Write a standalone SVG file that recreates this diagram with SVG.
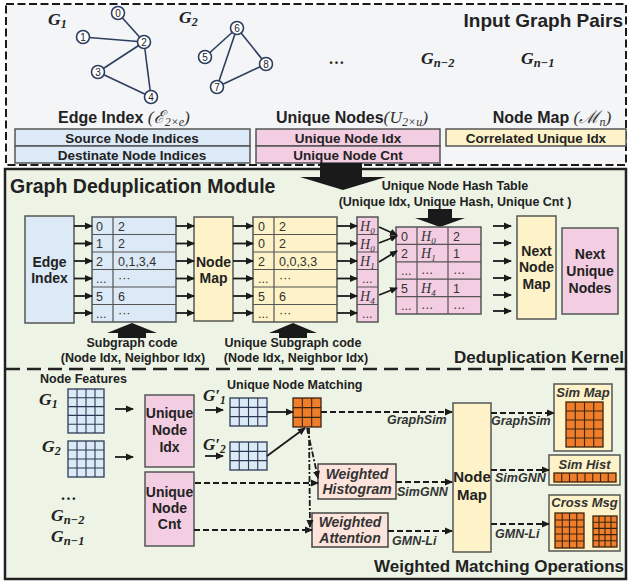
<svg xmlns="http://www.w3.org/2000/svg" width="628" height="584" viewBox="0 0 628 584">
  <style>
    .sans { font-family: "Liberation Sans", Arial, sans-serif; font-weight: bold; fill: #222; }
    .val { font-family: "Liberation Sans", Arial, sans-serif; font-size: 12.5px; fill: #333; }
    .mth { font-family: "Liberation Serif", "DejaVu Serif", serif; font-style: italic; font-weight: bold; fill: #222; }
    .mi { font-family: "Liberation Serif", "DejaVu Serif", serif; font-style: italic; font-weight: normal; fill: #333; }
    .ital { font-family: "Liberation Sans", Arial, sans-serif; font-weight: bold; font-style: italic; fill: #333; }
    .blue { fill: #dce9f6; stroke: #555; stroke-width: 1.5; }
    .pink { fill: #f3cde1; stroke: #555; stroke-width: 1.5; }
    .yel { fill: #fdf2c8; stroke: #555; stroke-width: 1.5; }
    .salm { fill: #fce4dc; stroke: #444; stroke-width: 1.5; }
    .gl { fill: none; stroke: #555; stroke-width: 1.2; }
    .bgrid { fill: #dce9f6; stroke: #2b3a55; stroke-width: 1.3; }
    .bgl { fill: none; stroke: #2b3a55; stroke-width: 1.1; }
    .ogrid { fill: #f07d2a; stroke: #3a2410; stroke-width: 1.3; }
    .ogl { fill: none; stroke: #3a2410; stroke-width: 1.1; }
    .edge { stroke: #2d3e5e; stroke-width: 1.6; }
    .vtx { fill: #fff; stroke: #2d3e5e; stroke-width: 1.6; }
    .vnum { font-family: "Liberation Sans", Arial, sans-serif; font-size: 10px; fill: #222; text-anchor: middle; }
    .arr { stroke: #1a1a1a; stroke-width: 1.8; fill: none; marker-end: url(#ah); }
    .dash { stroke: #1a1a1a; stroke-width: 2; fill: none; stroke-dasharray: 6 3; marker-end: url(#ah); }
    .dd { stroke: #1a1a1a; stroke-width: 1.8; fill: none; stroke-dasharray: 6 2 2 2; marker-end: url(#ah); }
    .big { fill: #1a1a1a; }
  </style>
  <defs>
    <marker id="ah" markerUnits="userSpaceOnUse" markerWidth="8" markerHeight="8" refX="7" refY="4" orient="auto">
      <path d="M0,0.5 L8,4 L0,7.5 z" fill="#1a1a1a"/>
    </marker>
  </defs>

  <!-- Input graph pairs panel -->
  <g id="input-panel">
    <rect x="6" y="4" width="620" height="161" fill="#f4f5f7" stroke="#1a1a1a" stroke-width="2" stroke-dasharray="8 3.5"/>
    <text class="sans" x="623" y="27" font-size="19" text-anchor="end">Input Graph Pairs</text>
  </g>

  <g id="graph-g1">
    <text class="mth" x="48" y="25" font-size="17.5">G<tspan font-size="12" dy="3">1</tspan></text>
    <line class="edge" x1="118" y1="13" x2="144" y2="42"/>
    <line class="edge" x1="83" y1="37" x2="144" y2="42"/>
    <line class="edge" x1="144" y1="42" x2="98" y2="72"/>
    <line class="edge" x1="144" y1="42" x2="151" y2="97"/>
    <line class="edge" x1="98" y1="72" x2="151" y2="97"/>
    <circle class="vtx" cx="118" cy="13" r="6.5"/><text class="vnum" x="118" y="16.6">0</text>
    <circle class="vtx" cx="83" cy="37" r="6.5"/><text class="vnum" x="83" y="40.6">1</text>
    <circle class="vtx" cx="144" cy="42" r="6.5"/><text class="vnum" x="144" y="45.6">2</text>
    <circle class="vtx" cx="98" cy="72" r="6.5"/><text class="vnum" x="98" y="75.6">3</text>
    <circle class="vtx" cx="151" cy="97" r="6.5"/><text class="vnum" x="151" y="100.6">4</text>
  </g>

  <g id="graph-g2">
    <text class="mth" x="179" y="23" font-size="17.5">G<tspan font-size="12" dy="3">2</tspan></text>
    <line class="edge" x1="237" y1="28" x2="205" y2="57"/>
    <line class="edge" x1="237" y1="28" x2="217" y2="87"/>
    <line class="edge" x1="237" y1="28" x2="266" y2="64"/>
    <line class="edge" x1="266" y1="64" x2="217" y2="87"/>
    <circle class="vtx" cx="237" cy="28" r="6.5"/><text class="vnum" x="237" y="31.6">6</text>
    <circle class="vtx" cx="205" cy="57" r="6.5"/><text class="vnum" x="205" y="60.6">5</text>
    <circle class="vtx" cx="266" cy="64" r="6.5"/><text class="vnum" x="266" y="67.6">8</text>
    <circle class="vtx" cx="217" cy="87" r="6.5"/><text class="vnum" x="217" y="90.6">7</text>
  </g>

  <g id="graph-rest">
    <text class="mth" x="337" y="64" font-size="16" text-anchor="middle">…</text>
    <text class="mth" x="421" y="64" font-size="17.5">G<tspan font-size="12.5" dy="3">n−2</tspan></text>
    <text class="mth" x="521" y="64" font-size="17.5">G<tspan font-size="12.5" dy="3">n−1</tspan></text>
  </g>

  <g id="edge-index-format">
    <text class="sans" x="124" y="123" font-size="16" text-anchor="middle">Edge Index <tspan class="mi" font-size="17.5">(ℰ<tspan font-size="12" dy="3">2×e</tspan><tspan dy="-3">)</tspan></tspan></text>
    <rect class="blue" x="15" y="129" width="235" height="17"/>
    <rect class="blue" x="15" y="146" width="235" height="17"/>
    <text class="sans" x="132" y="142.5" font-size="13.5" text-anchor="middle">Source Node Indices</text>
    <text class="sans" x="132" y="159.5" font-size="13.5" text-anchor="middle">Destinate Node Indices</text>
  </g>

  <g id="unique-nodes-format">
    <text class="sans" x="352" y="123" font-size="16" text-anchor="middle">Unique Nodes<tspan class="mi" font-size="17.5">(U<tspan font-size="12" dy="3">2×u</tspan><tspan dy="-3">)</tspan></tspan></text>
    <rect class="pink" x="256" y="129" width="184" height="17"/>
    <rect class="pink" x="256" y="146" width="184" height="17"/>
    <text class="sans" x="348" y="142.5" font-size="13.5" text-anchor="middle">Unique Node Idx</text>
    <text class="sans" x="348" y="159.5" font-size="13.5" text-anchor="middle">Unique Node Cnt</text>
  </g>

  <g id="node-map-format">
    <text class="sans" x="552" y="123" font-size="16" text-anchor="middle">Node Map <tspan class="mi" font-size="17.5">(ℳ<tspan font-size="12" dy="3">n</tspan><tspan dy="-3">)</tspan></tspan></text>
    <rect class="yel" x="446" y="129" width="180" height="17"/>
    <text class="sans" x="536" y="142.5" font-size="13.5" text-anchor="middle">Correlated Unique Idx</text>
  </g>

  <!-- Graph deduplication module frame -->
  <g id="module-frame">
    <rect x="5" y="169" width="621" height="410" fill="#edf4e5" stroke="#222" stroke-width="2.5"/>
    <line x1="6" y1="369" x2="626" y2="369" stroke="#222" stroke-width="2.5" stroke-dasharray="14 7"/>
    <text class="sans" x="10" y="193" font-size="19.5">Graph Deduplication Module</text>
    <text class="sans" x="624" y="363" font-size="17" text-anchor="end">Deduplication Kernel</text>
    <text class="sans" x="624" y="572" font-size="17" text-anchor="end">Weighted Matching Operations</text>
  </g>

  <!-- Block arrow from the input panel into the module -->
  <g id="input-arrow">
    <polygon class="big" points="320,163 362,163 362,177 386,177 343,190 300,177 320,177"/>
  </g>

  <g id="edge-index">
    <rect class="blue" x="25" y="216" width="49" height="107"/>
    <text class="sans" x="49.5" y="267" font-size="14" text-anchor="middle">Edge</text>
    <text class="sans" x="49.5" y="283" font-size="14" text-anchor="middle">Index</text>
  </g>

  <g id="subgraph-code">
    <rect class="blue" x="92" y="217" width="84" height="105"/>
    <path class="gl" d="M113,217 V322 M92,234.5 H176 M92,252 H176 M92,269.5 H176 M92,287 H176 M92,304.5 H176"/>
    <text class="val" x="96" y="230.5">0</text><text class="val" x="118" y="230.5">2</text>
    <text class="val" x="96" y="248">1</text><text class="val" x="118" y="248">2</text>
    <text class="val" x="96" y="265.5">2</text><text class="val" x="118" y="265.5">0,1,3,4</text>
    <text class="val" x="96" y="283" font-size="9">...</text><text class="val" x="118" y="282" font-size="10">···</text>
    <text class="val" x="96" y="300.5">5</text><text class="val" x="118" y="300.5">6</text>
    <text class="val" x="96" y="318" font-size="9">...</text><text class="val" x="118" y="317" font-size="10">···</text>
    <polygon class="big" points="132,323 157,333 146,333 146,338 118,338 118,333 107,333"/>
    <text class="sans" x="132" y="347" font-size="12.5" text-anchor="middle">Subgraph code</text>
    <text class="sans" x="133" y="362" font-size="12.5" text-anchor="middle">(Node Idx, Neighbor Idx)</text>
  </g>

  <g id="node-map">
    <rect class="yel" x="194" y="217" width="39" height="104"/>
    <text class="sans" x="213.5" y="267" font-size="14" text-anchor="middle">Node</text>
    <text class="sans" x="213.5" y="283" font-size="14" text-anchor="middle">Map</text>
  </g>

  <g id="unique-subgraph-code">
    <rect class="yel" x="253" y="217" width="84" height="105"/>
    <path class="gl" d="M274,217 V322 M253,234.5 H337 M253,252 H337 M253,269.5 H337 M253,287 H337 M253,304.5 H337"/>
    <text class="val" x="258" y="230.5">0</text><text class="val" x="279" y="230.5">2</text>
    <text class="val" x="258" y="248">0</text><text class="val" x="279" y="248">2</text>
    <text class="val" x="258" y="265.5">2</text><text class="val" x="279" y="265.5">0,0,3,3</text>
    <text class="val" x="258" y="283" font-size="9">...</text><text class="val" x="279" y="282" font-size="10">···</text>
    <text class="val" x="258" y="300.5">5</text><text class="val" x="279" y="300.5">6</text>
    <text class="val" x="258" y="318" font-size="9">...</text><text class="val" x="279" y="317" font-size="10">···</text>
    <polygon class="big" points="293,323 317,333 307,333 307,338 279,338 279,333 269,333"/>
    <text class="sans" x="293" y="347" font-size="12.5" text-anchor="middle">Unique Subgraph code</text>
    <text class="sans" x="296" y="362" font-size="12.5" text-anchor="middle">(Node Idx, Neighbor Idx)</text>
  </g>

  <g id="hash-column">
    <rect class="pink" x="357" y="217" width="21" height="105"/>
    <path class="gl" d="M357,234.5 H378 M357,252 H378 M357,269.5 H378 M357,287 H378 M357,304.5 H378"/>
    <text class="mi" x="360" y="231" font-size="14">H<tspan font-size="9" dy="3">0</tspan></text>
    <text class="mi" x="360" y="248.5" font-size="14">H<tspan font-size="9" dy="3">0</tspan></text>
    <text class="mi" x="360" y="266" font-size="14">H<tspan font-size="9" dy="3">1</tspan></text>
    <text class="val" x="362" y="283" font-size="9">...</text>
    <text class="mi" x="360" y="301" font-size="14">H<tspan font-size="9" dy="3">4</tspan></text>
    <text class="val" x="362" y="318" font-size="9">...</text>
  </g>

  <g id="hash-table">
    <text class="sans" x="455" y="190" font-size="12.5" text-anchor="middle">Unique Node Hash Table</text>
    <text class="sans" x="455" y="206" font-size="12.5" text-anchor="middle">(Unique Idx, Unique Hash, Unique Cnt )</text>
    <polygon class="big" points="428,209 452,209 452,218 465,218 440,227 415,218 428,218"/>
    <rect class="pink" x="396" y="227" width="85" height="87"/>
    <path class="gl" d="M417,227 V314 M448,227 V314 M396,244.4 H481 M396,261.8 H481 M396,279.2 H481 M396,296.6 H481"/>
    <text class="val" x="401" y="240.5">0</text><text class="mi" x="421" y="240.5" font-size="14">H<tspan font-size="9" dy="3">0</tspan></text><text class="val" x="453" y="240.5">2</text>
    <text class="val" x="401" y="258">2</text><text class="mi" x="421" y="258" font-size="14">H<tspan font-size="9" dy="3">1</tspan></text><text class="val" x="453" y="258">1</text>
    <text class="val" x="401" y="275" font-size="9">...</text><text class="val" x="421" y="274" font-size="11">…</text><text class="val" x="453" y="274" font-size="11">…</text>
    <text class="val" x="401" y="292.5">5</text><text class="mi" x="421" y="292.5" font-size="14">H<tspan font-size="9" dy="3">4</tspan></text><text class="val" x="453" y="292.5">1</text>
    <text class="val" x="401" y="310" font-size="9">...</text><text class="val" x="421" y="309" font-size="11">…</text><text class="val" x="453" y="309" font-size="11">…</text>
  </g>

  <g id="next-node-map">
    <rect class="yel" x="517" y="216" width="39" height="103"/>
    <text class="sans" x="536.5" y="256" font-size="14" text-anchor="middle">Next</text>
    <text class="sans" x="536.5" y="272" font-size="14" text-anchor="middle">Node</text>
    <text class="sans" x="536.5" y="289" font-size="14" text-anchor="middle">Map</text>
  </g>

  <g id="next-unique-nodes">
    <rect class="pink" x="562" y="228" width="56" height="86"/>
    <text class="sans" x="590" y="259" font-size="14" text-anchor="middle">Next</text>
    <text class="sans" x="590" y="276" font-size="14" text-anchor="middle">Unique</text>
    <text class="sans" x="590" y="293" font-size="14" text-anchor="middle">Nodes</text>
  </g>

  <!-- Weighted matching operations -->
  <g id="node-features">
    <text class="sans" x="40" y="383" font-size="12.5">Node Features</text>
    <text class="mth" x="39" y="405" font-size="17.5">G<tspan font-size="12" dy="3">1</tspan></text>
    <rect class="bgrid" x="68" y="389" width="36" height="44"/>
    <path class="bgl" d="M77,389 V433 M86,389 V433 M95,389 V433 M68,397.8 H104 M68,406.6 H104 M68,415.4 H104 M68,424.2 H104"/>
    <text class="mth" x="42" y="452" font-size="17.5">G<tspan font-size="12" dy="3">2</tspan></text>
    <rect class="bgrid" x="68" y="441" width="36" height="36"/>
    <path class="bgl" d="M77,441 V477 M86,441 V477 M95,441 V477 M68,450 H104 M68,459 H104 M68,468 H104"/>
    <text class="mth" x="69" y="500" font-size="16" text-anchor="middle">…</text>
    <text class="mth" x="51" y="521" font-size="17.5">G<tspan font-size="12.5" dy="3">n−2</tspan></text>
    <text class="mth" x="51" y="542" font-size="17.5">G<tspan font-size="12.5" dy="3">n−1</tspan></text>
  </g>

  <g id="unique-node-idx">
    <rect class="pink" x="145" y="395" width="49" height="72"/>
    <text class="sans" x="169.5" y="418" font-size="14" text-anchor="middle">Unique</text>
    <text class="sans" x="169.5" y="435" font-size="14" text-anchor="middle">Node</text>
    <text class="sans" x="169.5" y="452" font-size="14" text-anchor="middle">Idx</text>
  </g>

  <g id="unique-node-cnt">
    <rect class="pink" x="145" y="472" width="49" height="74"/>
    <text class="sans" x="169.5" y="497" font-size="14" text-anchor="middle">Unique</text>
    <text class="sans" x="169.5" y="513" font-size="14" text-anchor="middle">Node</text>
    <text class="sans" x="169.5" y="529" font-size="14" text-anchor="middle">Cnt</text>
  </g>

  <g id="unique-features">
    <text class="mth" x="203" y="401" font-size="17">G′<tspan font-size="11.5" dy="3">1</tspan></text>
    <rect class="bgrid" x="230" y="398" width="37" height="28"/>
    <path class="bgl" d="M239.25,398 V426 M248.5,398 V426 M257.75,398 V426 M230,407.33 H267 M230,416.67 H267"/>
    <text class="mth" x="203" y="450" font-size="17">G′<tspan font-size="11.5" dy="3">2</tspan></text>
    <rect class="bgrid" x="230" y="442" width="37" height="28"/>
    <path class="bgl" d="M239.25,442 V470 M248.5,442 V470 M257.75,442 V470 M230,451.33 H267 M230,460.67 H267"/>
  </g>

  <g id="node-matching">
    <text class="sans" x="227" y="389" font-size="12.5">Unique Node Matching</text>
    <rect class="ogrid" x="293" y="398" width="28" height="29"/>
    <path class="ogl" d="M302.33,398 V427 M311.67,398 V427 M293,407.67 H321 M293,417.33 H321"/>
  </g>

  <g id="weighted-histogram">
    <rect class="salm" x="318" y="464" width="78" height="35"/>
    <text class="ital" x="357" y="478.5" font-size="14" text-anchor="middle">Weighted</text>
    <text class="ital" x="357" y="494" font-size="14" text-anchor="middle">Histogram</text>
  </g>

  <g id="weighted-attention">
    <rect class="salm" x="312" y="513" width="76" height="34"/>
    <text class="ital" x="350" y="527" font-size="14" text-anchor="middle">Weighted</text>
    <text class="ital" x="350" y="543" font-size="14" text-anchor="middle">Attention</text>
  </g>

  <g id="match-node-map">
    <rect class="yel" x="453" y="403" width="38" height="149"/>
    <text class="sans" x="472" y="482" font-size="15" text-anchor="middle">Node</text>
    <text class="sans" x="472" y="500" font-size="15" text-anchor="middle">Map</text>
  </g>

  <g id="sim-map">
    <rect class="yel" x="554" y="384" width="58" height="67"/>
    <text class="ital" x="583" y="397" font-size="13" text-anchor="middle">Sim Map</text>
    <rect class="ogrid" x="566" y="402" width="37" height="45"/>
    <path class="ogl" d="M575.25,402 V447 M584.5,402 V447 M593.75,402 V447 M566,411 H603 M566,420 H603 M566,429 H603 M566,438 H603"/>
  </g>

  <g id="sim-hist">
    <rect class="yel" x="549" y="455" width="71" height="30"/>
    <text class="ital" x="584.5" y="469" font-size="13" text-anchor="middle">Sim Hist</text>
    <rect class="ogrid" x="554" y="473" width="62" height="9"/>
    <path class="ogl" d="M561.75,473 V482 M569.5,473 V482 M577.25,473 V482 M585,473 V482 M592.75,473 V482 M600.5,473 V482 M608.25,473 V482"/>
  </g>

  <g id="cross-msg">
    <rect class="yel" x="549" y="495" width="71" height="56"/>
    <text class="ital" x="584.5" y="507" font-size="13" text-anchor="middle">Cross Msg</text>
    <rect class="ogrid" x="555" y="513" width="29" height="35"/>
    <path class="ogl" d="M562.25,513 V548 M569.5,513 V548 M576.75,513 V548 M555,520 H584 M555,527 H584 M555,534 H584 M555,541 H584"/>
    <rect class="ogrid" x="593" y="516" width="24" height="31"/>
    <path class="ogl" d="M599,516 V547 M605,516 V547 M611,516 V547 M593,522.2 H617 M593,528.4 H617 M593,534.6 H617 M593,540.8 H617"/>
  </g>

  <!-- Connectors -->
  <g id="connectors">
    <!-- edge index to subgraph code -->
    <line class="arr" x1="74" y1="226" x2="92" y2="226"/>
    <line class="arr" x1="74" y1="243.5" x2="92" y2="243.5"/>
    <line class="arr" x1="74" y1="261" x2="92" y2="261"/>
    <line class="arr" x1="74" y1="278.5" x2="92" y2="278.5"/>
    <line class="arr" x1="74" y1="296" x2="92" y2="296"/>
    <line class="arr" x1="74" y1="313" x2="92" y2="313"/>
    <!-- subgraph code to node map -->
    <line class="arr" x1="176" y1="226" x2="194" y2="226"/>
    <line class="arr" x1="176" y1="243.5" x2="194" y2="243.5"/>
    <line class="arr" x1="176" y1="261" x2="194" y2="261"/>
    <line class="arr" x1="176" y1="278.5" x2="194" y2="278.5"/>
    <line class="arr" x1="176" y1="296" x2="194" y2="296"/>
    <line class="arr" x1="176" y1="313" x2="194" y2="313"/>
    <!-- node map to unique subgraph code -->
    <line class="arr" x1="233" y1="226" x2="253" y2="226"/>
    <line class="arr" x1="233" y1="243.5" x2="253" y2="243.5"/>
    <line class="arr" x1="233" y1="261" x2="253" y2="261"/>
    <line class="arr" x1="233" y1="278.5" x2="253" y2="278.5"/>
    <line class="arr" x1="233" y1="296" x2="253" y2="296"/>
    <line class="arr" x1="233" y1="313" x2="253" y2="313"/>
    <!-- unique subgraph code to hashes -->
    <line class="arr" x1="337" y1="226" x2="357" y2="226"/>
    <line class="arr" x1="337" y1="243.5" x2="357" y2="243.5"/>
    <line class="arr" x1="337" y1="261" x2="357" y2="261"/>
    <line class="arr" x1="337" y1="278.5" x2="357" y2="278.5"/>
    <line class="arr" x1="337" y1="296" x2="357" y2="296"/>
    <line class="arr" x1="337" y1="313" x2="357" y2="313"/>
    <!-- hashes to hash table -->
    <line class="arr" x1="379" y1="227" x2="397" y2="235"/>
    <line class="arr" x1="379" y1="243" x2="397" y2="236"/>
    <line class="arr" x1="379" y1="262" x2="397" y2="251"/>
    <line class="arr" x1="379" y1="295" x2="397" y2="288"/>
    <!-- hash table to next stage -->
    <line class="arr" x1="493" y1="226" x2="511" y2="226"/>
    <line class="arr" x1="493" y1="243" x2="511" y2="243"/>
    <line class="arr" x1="493" y1="261" x2="511" y2="261"/>
    <line class="arr" x1="493" y1="278" x2="511" y2="278"/>
    <line class="arr" x1="493" y1="295" x2="511" y2="295"/>
    <line class="arr" x1="493" y1="311" x2="511" y2="311"/>

    <!-- node features to unique node idx -->
    <line class="arr" x1="115" y1="409" x2="133" y2="409"/>
    <line class="arr" x1="115" y1="457" x2="133" y2="457"/>
    <!-- unique node idx to unique features -->
    <line class="arr" x1="205" y1="410" x2="223" y2="410"/>
    <line class="arr" x1="205" y1="456" x2="223" y2="456"/>
    <!-- unique features to matching -->
    <line class="arr" x1="267" y1="412" x2="293" y2="412"/>
    <line class="arr" x1="267" y1="456" x2="305" y2="428"/>
    <!-- matching outputs -->
    <line class="dash" x1="321" y1="412" x2="452" y2="412"/>
    <text class="ital" x="387" y="424" font-size="12.5">GraphSim</text>
    <line class="dd" x1="307" y1="428" x2="318" y2="478"/>
    <line class="dd" x1="309" y1="428" x2="310" y2="527"/>
    <!-- unique node cnt to weighting blocks -->
    <line class="dash" x1="195" y1="483" x2="318" y2="483"/>
    <line class="dash" x1="194" y1="530" x2="312" y2="530"/>
    <!-- weighting blocks to node map -->
    <line class="dash" x1="396" y1="482" x2="452" y2="482"/>
    <text class="ital" x="397" y="496" font-size="12.5">SimGNN</text>
    <line class="dash" x1="388" y1="531" x2="452" y2="531"/>
    <text class="ital" x="392" y="545" font-size="12.5">GMN-Li</text>
    <!-- node map to results -->
    <line class="dash" x1="491" y1="413" x2="554" y2="413"/>
    <text class="ital" x="491" y="425" font-size="12.5">GraphSim</text>
    <line class="dash" x1="491" y1="470" x2="549" y2="470"/>
    <text class="ital" x="495" y="482" font-size="12.5">SimGNN</text>
    <line class="dash" x1="491" y1="524" x2="549" y2="524"/>
    <text class="ital" x="495" y="538" font-size="12.5">GMN-Li</text>
  </g>
</svg>
